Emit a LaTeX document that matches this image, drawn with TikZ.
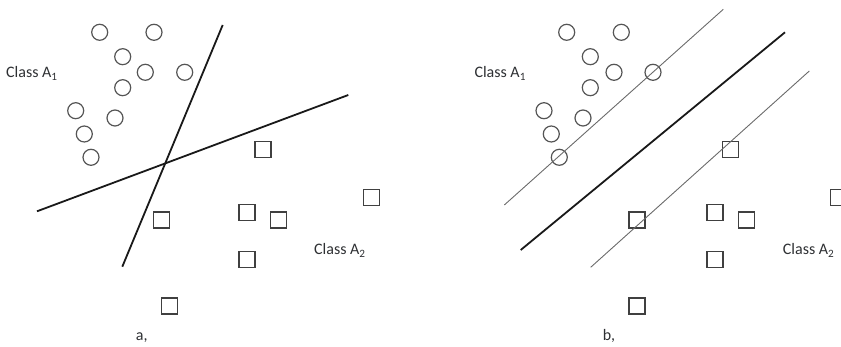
\documentclass[tikz,border=0pt]{standalone}
\usepackage{fontspec}
\setmainfont{Carlito}
\definecolor{circ}{HTML}{555555}
\definecolor{sq}{HTML}{404040}
\definecolor{txt}{HTML}{2E3033}
\definecolor{thin}{HTML}{6A6A6A}
\begin{document}
\begin{tikzpicture}[x=1pt,y=-1pt,
  pt/.style={circle,draw=circ,line width=1.2pt,minimum size=16pt,inner sep=0pt},
  sqr/.style={rectangle,draw=sq,line width=1.4pt,minimum size=16pt,inner sep=0pt},
  lbl/.style={anchor=base west,inner sep=0pt,text=txt,font=\fontsize{16}{18}\selectfont},
  sep/.style={line width=1.8pt,draw=black!90},
  marg/.style={line width=0.9pt,draw=thin}]
\useasboundingbox (0,0) rectangle (841,347);
\clip (0,0) rectangle (841,347);
% panel a
\foreach \x/\y [count=\i] in {99.7/32.3,154/32.3,122.7/56.7,145.3/72.3,184.7/72.3,122.7/87.7,75.7/110.7,115/118,84.3/134,91/157.3}
  \node[pt] (a\i) at (\x,\y) {};
\foreach \x/\y [count=\i] in {263/149.7,371.3/197.7,161.3/220,247/212.7,278.7/220,247/259.3,169.3/306}
  \node[sqr] (as\i) at (\x,\y) {};
\coordinate (l1s) at (222.7,25);
\coordinate (l1e) at (122.3,266.7);
\coordinate (l2s) at (37,211.3);
\coordinate (l2e) at (348.3,95);
\draw[sep] (l1s) -- (l1e);
\draw[sep] (l2s) -- (l2e);
\node[lbl] (la1) at (6,78) {Class A\textsubscript{1}};
\node[lbl] (la2) at (314,255) {Class A\textsubscript{2}};
\node[lbl,anchor=base] (capa) at (141.7,341) {a,};
% panel b
\foreach \x/\y [count=\i] in {566.7/32.3,621.3/32.3,590.3/56.7,614/72.3,653/72.3,590.3/87.7,544/110.7,583/118,551.3/134,559.3/157.3}
  \node[pt] (b\i) at (\x,\y) {};
\foreach \x/\y [count=\i] in {730.3/149.7,838.3/197.7,637/220,715/212.7,746.3/220,715/259.3,637/306}
  \node[sqr] (bs\i) at (\x,\y) {};
\coordinate (m1s) at (504.3,205);
\coordinate (m1e) at (723.3,9.3);
\coordinate (hs) at (520.7,250);
\coordinate (he) at (785,32.3);
\coordinate (m2s) at (590.7,267.3);
\coordinate (m2e) at (809.3,71);
\draw[marg] (m1s) -- (m1e);
\draw[sep] (hs) -- (he);
\draw[marg] (m2s) -- (m2e);
\node[lbl] (lb1) at (474.3,78) {Class A\textsubscript{1}};
\node[lbl] (lb2) at (782.7,255) {Class A\textsubscript{2}};
\node[lbl,anchor=base] (capb) at (609,341) {b,};
\end{tikzpicture}
\end{document}
